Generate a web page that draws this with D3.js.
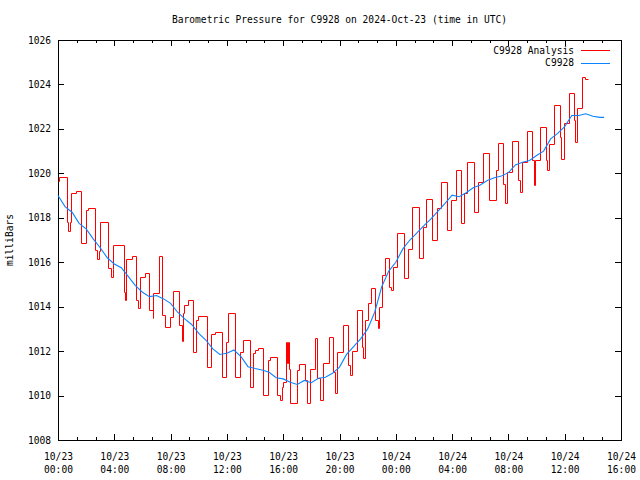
<!DOCTYPE html>
<html><head><meta charset="utf-8">
<script src="https://cdn.jsdelivr.net/npm/d3@7"></script>
<style>
html,body{margin:0;padding:0;background:#fff;}
svg text{font-family:"DejaVu Sans Mono","Liberation Mono",monospace;font-size:9.6px;fill:#000;}
</style></head>
<body>
<svg id="chart" width="640" height="480"></svg>
<script>
// ---- data (hours since 2024-10-23 00:00 UTC, pressure in mbar) ----
const titleText = "Barometric Pressure for C9928 on 2024-Oct-23 (time in UTC)";
const yLabel = "milliBars";
const seriesNames = ["C9928 Analysis", "C9928"];
const yTicks = [1008, 1010, 1012, 1014, 1016, 1018, 1020, 1022, 1024, 1026];

const analysisHours = [0.00,0.10,0.62,0.73,0.86,0.93,1.25,1.61,1.99,2.11,2.62,2.74,2.89,2.99,3.57,3.76,3.89,3.93,4.69,4.74,4.83,5.24,5.52,5.68,5.82,6.18,6.49,6.73,6.78,7.20,7.36,7.62,7.96,8.15,8.62,8.81,8.86,8.93,9.21,9.61,9.81,9.97,10.56,10.85,11.16,11.63,11.94,12.11,12.57,12.93,13.17,13.62,13.83,13.97,14.23,14.59,14.94,15.06,15.58,15.74,15.89,15.99,16.19,16.26,16.34,16.44,16.49,16.95,17.15,17.54,17.71,17.91,18.26,18.41,18.61,18.81,19.27,19.56,19.67,19.79,20.28,20.63,20.73,20.86,21.22,21.57,21.69,21.81,21.99,22.22,22.52,22.70,22.83,23.00,23.22,23.54,23.66,23.83,24.11,24.59,24.89,25.12,25.67,25.91,26.15,26.55,26.91,27.19,27.61,27.93,28.25,28.61,28.87,29.04,29.58,29.86,30.22,30.65,31.12,31.28,31.64,31.78,31.92,32.25,32.65,32.79,32.94,33.29,33.70,33.80,33.90,34.24,34.68,34.76,34.91,35.21,35.66,35.77,35.92,36.28,36.68,36.74,36.85,37.21,37.45,37.65];
const analysisValues = [1019.65,1019.85,1017.8,1017.4,1017.8,1019.1,1019.2,1016.85,1018.35,1018.45,1016.55,1016.15,1016.5,1017.8,1015.73,1015.32,1015.7,1016.78,1014.67,1014.3,1016.13,1016.28,1014.3,1013.93,1015.35,1015.5,1013.85,1013.48,1014.6,1016.28,1013.63,1013.07,1013.55,1014.7,1013.18,1012.46,1013.7,1014.08,1014.3,1011.97,1013.4,1013.58,1011.27,1012.75,1012.88,1010.82,1012.43,1013.7,1010.82,1011.97,1012.5,1010.37,1011.9,1012.05,1012.13,1010.03,1011.6,1011.75,1010.03,1009.8,1010.4,1010.6,1012.43,1011.45,1012.43,1011.2,1009.65,1011.15,1011.4,1010.7,1009.65,1011.18,1012.58,1010.78,1009.8,1011.45,1012.65,1011.07,1010.1,1011.97,1013.18,1011.38,1010.93,1012.0,1013.85,1012.2,1011.68,1013.4,1014.15,1014.83,1013.4,1013.03,1014.0,1015.43,1016.2,1014.9,1014.75,1015.8,1017.33,1015.28,1016.6,1018.47,1016.18,1017.6,1018.83,1017.0,1018.43,1019.63,1017.45,1018.8,1020.15,1017.75,1019.1,1020.5,1018.28,1019.63,1020.9,1018.78,1020.15,1021.35,1019.5,1018.65,1020.08,1021.47,1019.7,1019.18,1020.53,1021.92,1020.6,1019.47,1020.6,1022.07,1020.6,1020.15,1021.3,1023.08,1021.65,1020.63,1022.25,1023.6,1022.4,1021.43,1022.93,1024.32,1024.25,1024.25];

const stationHours = [0,0.5,1,1.5,2,2.5,3,3.5,4,4.5,5,5.5,6,6.5,7,7.5,8,8.5,9,9.5,10,10.5,11,11.5,12,12.5,13,13.5,14,14.5,15,15.5,16,16.5,17,17.5,18,18.5,19,19.5,20,20.5,21,21.5,22,22.5,23,23.5,24,24.5,25,25.5,26,26.5,27,27.5,28,28.5,29,29.5,30,30.5,31,31.5,32,32.5,33,33.5,34,34.5,35,35.5,36,36.5,37,37.5,38,38.5,38.8];
const stationValues = [1019.0,1018.5,1018.25,1017.75,1017.5,1017.05,1016.65,1016.2,1015.92,1015.75,1015.35,1014.95,1014.65,1014.45,1014.5,1014.35,1014.15,1013.75,1013.45,1013.2,1012.8,1012.5,1012.1,1011.85,1011.9,1012.05,1011.75,1011.3,1011.22,1011.15,1011.05,1010.8,1010.75,1010.6,1010.5,1010.68,1010.58,1010.78,1010.82,1011.0,1011.28,1011.85,1012.2,1012.55,1013.0,1013.75,1014.9,1015.6,1016.0,1016.6,1017.0,1017.32,1017.65,1017.95,1018.3,1018.65,1019.02,1018.95,1019.13,1019.35,1019.48,1019.68,1019.8,1019.88,1020.03,1020.38,1020.5,1020.58,1020.8,1021.0,1021.55,1021.8,1022.1,1022.6,1022.6,1022.68,1022.57,1022.52,1022.52];

// ---- layout ----
const start = Date.UTC(2024, 9, 23, 0, 0);
const end = Date.UTC(2024, 9, 24, 16, 0);
const L = 58, R = 621, T = 40, B = 440;
const toDate = h => new Date(start + h * 3600e3);
const snap = v => Math.round(v) + 0.5;

const svg = d3.select("#chart");
const x = d3.scaleUtc().domain([new Date(start), new Date(end)]).range([L, R]);
const y = d3.scaleLinear().domain([1008, 1026]).range([B, T]);

const majors = d3.utcHour.every(4).range(new Date(start), new Date(end + 1));
const minors = [];
majors.slice(0, -1).forEach(m => { minors.push(new Date(+m + 80 * 60e3), new Date(+m + 160 * 60e3)); });

const fmtD = d3.utcFormat("%m/%d"), fmtT = d3.utcFormat("%H:%M");

// axes (ticks pointing inward)
const gB = svg.append("g").attr("transform", `translate(0,${B})`)
  .call(d3.axisBottom(x).tickValues(majors).tickSize(-6).tickPadding(0).tickFormat(() => ""));
gB.selectAll(".tick text").each(function(d){
  const t = d3.select(this).attr("y", null).attr("dy", null);
  t.append("tspan").attr("x", 0).attr("y", 19.5).text(fmtD(d));
  t.append("tspan").attr("x", 0).attr("y", 32.5).text(fmtT(d));
});
svg.append("g").attr("transform", `translate(0,${B})`)
  .call(d3.axisBottom(x).tickValues(minors).tickSize(-3).tickFormat(() => ""));
svg.append("g").attr("transform", `translate(0,${T})`)
  .call(d3.axisTop(x).tickValues(majors).tickSize(-6).tickFormat(() => ""));
svg.append("g").attr("transform", `translate(0,${T})`)
  .call(d3.axisTop(x).tickValues(minors).tickSize(-3).tickFormat(() => ""));
const gL = svg.append("g").attr("transform", `translate(${L},0)`)
  .call(d3.axisLeft(y).tickValues(yTicks).tickSize(-6).tickPadding(7).tickFormat(d3.format("d")));
svg.append("g").attr("transform", `translate(${R},0)`)
  .call(d3.axisRight(y).tickValues(yTicks).tickSize(-6).tickFormat(() => ""));

svg.selectAll(".domain").remove();
svg.selectAll(".tick line").attr("stroke", "#000").attr("shape-rendering", "crispEdges");
svg.selectAll(".tick text").attr("font-family", null).attr("font-size", null).attr("fill", "#000");
gB.selectAll(".tick text").attr("text-anchor", "middle");

// frame
svg.append("rect").attr("x", L).attr("y", T).attr("width", R - L).attr("height", B - T)
  .attr("fill", "none").attr("stroke", "#000").attr("shape-rendering", "crispEdges");

// series
const analysis = analysisHours.map((h, i) => [toDate(h), analysisValues[i]]);
const station = stationHours.map((h, i) => [toDate(h), stationValues[i]]);

svg.append("path").datum(analysis)
  .attr("d", d3.line().x(d => snap(x(d[0]))).y(d => snap(y(d[1]))).curve(d3.curveStepAfter))
  .attr("fill", "none").attr("stroke", "#ff0000").attr("stroke-width", 1);
svg.append("path").datum(station)
  .attr("d", d3.line().x(d => x(d[0])).y(d => y(d[1])))
  .attr("fill", "none").attr("stroke", "#0a84ff").attr("stroke-width", 1.1);

// title & y label
svg.append("text").attr("x", (L + R) / 2).attr("y", 23).attr("text-anchor", "middle").text(titleText);
svg.append("text").attr("transform", `translate(13,${(T + B) / 2}) rotate(-90)`).attr("text-anchor", "middle").text(yLabel);

// legend
const legColors = ["#ff0000", "#0a84ff"];
seriesNames.forEach((n, i) => {
  const ly = 50 + i * 12.5;
  svg.append("text").attr("x", 574).attr("y", ly + 3.5).attr("text-anchor", "end").text(n);
  svg.append("line").attr("x1", 581).attr("x2", 610).attr("y1", snap(ly)).attr("y2", snap(ly))
    .attr("stroke", legColors[i]);
});
</script>
</body></html>
